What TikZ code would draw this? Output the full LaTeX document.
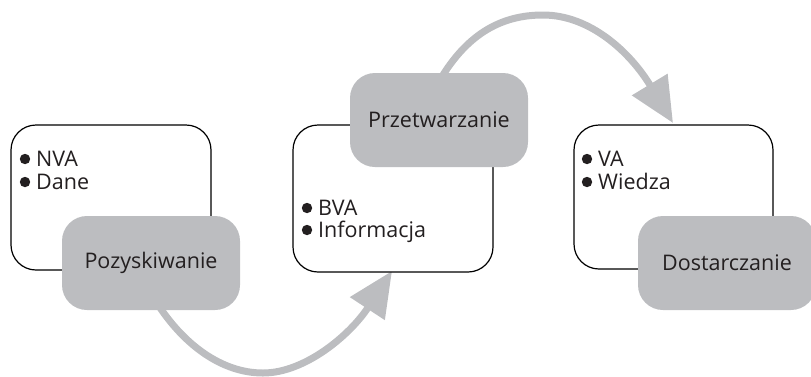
\documentclass[tikz,border=0pt]{standalone}
\usepackage{fontspec}
\setmainfont{Open Sans}
\usetikzlibrary{arrows.meta}
\definecolor{boxgrey}{HTML}{BCBDC0}
\definecolor{inktext}{HTML}{231F20}
\tikzset{
  infobox/.style={draw=black, line width=1.2pt, fill=white, rounded corners=25pt, minimum width=200pt, minimum height=145pt, inner sep=0pt},
  stagebox/.style={fill=boxgrey, rounded corners=25pt, minimum width=178pt, minimum height=94pt, inner sep=0pt, text=inktext, font=\fontsize{21.5}{25}\selectfont},
  itemtext/.style={anchor=base west, inner sep=0pt, text=inktext, font=\fontsize{21.5}{25}\selectfont},
  flow/.style={draw=boxgrey, line width=7pt, -{Triangle[length=45pt,width=40pt]}}
}
\begin{document}
\begin{tikzpicture}[x=1pt,y=-1pt]
\useasboundingbox (0,0) rectangle (811,376);
\clip (0,0) rectangle (811,376);
% connectors (behind boxes)
\coordinate (s1) at (155,300);
\coordinate (b1) at (263,373);
\coordinate (t1) at (392,271);
\coordinate (s2) at (437,85);
\coordinate (b2) at (543,15);
\coordinate (t2) at (673,123);
\draw[flow] (s1) .. controls (183,345) and (222,373) .. (b1) .. controls (305,373) and (350,335) .. (t1);
\draw[flow] (s2) .. controls (465,35) and (500,15) .. (b2) .. controls (590,15) and (630,52) .. (t2);
% info boxes
\node[infobox] (i1) at (111,197.5) {};
\node[infobox, minimum height=147pt] (i2) at (393,198.5) {};
\node[infobox, minimum width=199pt, minimum height=144pt] (i3) at (673.5,197) {};
% stage boxes
\node[stagebox] (p1) at (151,263) {Pozyskiwanie};
\node[stagebox] (p2) at (439,120) {Przetwarzanie};
\node[stagebox] (p3) at (727,263) {Dostarczanie};
% bullet texts
\node[itemtext] (a1) at (36,166) {NVA};
\node[itemtext] (a2) at (36,189) {Dane};
\node[itemtext] (b1t) at (318,215) {BVA};
\node[itemtext] (b2t) at (318,237) {Informacja};
\node[itemtext] (c1) at (598,166) {VA};
\node[itemtext] (c2) at (598,189) {Wiedza};
\fill[inktext] (25,159) circle (5.2pt);
\fill[inktext] (25,182) circle (5.2pt);
\fill[inktext] (307,208) circle (5.2pt);
\fill[inktext] (307,230) circle (5.2pt);
\fill[inktext] (587,159) circle (5.2pt);
\fill[inktext] (587,182) circle (5.2pt);
\end{tikzpicture}
\end{document}
